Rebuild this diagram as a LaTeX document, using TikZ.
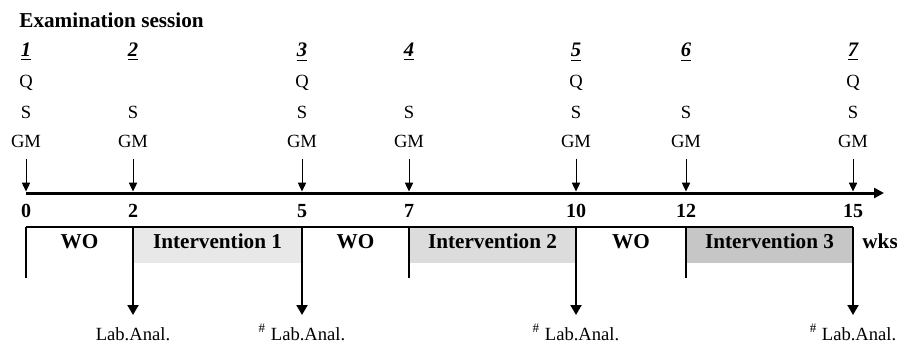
\documentclass[tikz,border=0pt]{standalone}
\usepackage{fontspec}
\setmainfont{Liberation Serif}
\usetikzlibrary{arrows.meta,calc}
\definecolor{graya}{HTML}{E8E8E8}
\definecolor{grayb}{HTML}{DCDCDC}
\definecolor{grayc}{HTML}{C6C6C6}
\begin{document}
\begin{tikzpicture}[x=0.5pt,y=-0.5pt,
  lbl/.style={inner sep=0pt,anchor=base,font=\fontsize{9.3}{11}\selectfont},
  blbl/.style={inner sep=0pt,anchor=base,font=\fontsize{10}{12}\selectfont\bfseries},
  phase/.style={inner sep=0pt,anchor=base,font=\fontsize{10.6}{13}\selectfont\bfseries},
  sesnum/.style={inner sep=0pt,anchor=base,font=\fontsize{10.3}{12}\selectfont\bfseries\itshape},
  axisline/.style={line width=1.5pt,-{Triangle[length=5pt,width=5pt]}},
  probe/.style={line width=0.5pt,-{Triangle[length=4.5pt,width=4.2pt]},shorten >=0.75pt},
  boxline/.style={line width=1pt},
  lab/.style={line width=1pt,-{Triangle[length=5pt,width=5.5pt]}}]
\useasboundingbox (0,0) rectangle (897,342);

% title
\node[inner sep=0pt,anchor=base west,font=\fontsize{10.6}{13}\selectfont\bfseries] (title) at (19,28) {Examination session};

% axis points (weeks)
\foreach \w/\x in {0/26,2/133,5/302,7/409,10/576,12/686,15/853}{
  \coordinate (a\w) at (\x,193);
  \coordinate (b\w) at (\x,227);
  \node[blbl] (n\w) at (\x,217) {\w};
}
\coordinate (aend) at (884,193);

% intervention fills
\fill[graya] (b2) rectangle (302,263);
\fill[grayb] (b7) rectangle (576,263);
\fill[grayc] (b12) rectangle (853,263);

% time axis
\draw[axisline] (a0) -- (aend);

% examination sessions
\foreach \s/\w in {1/0,2/2,3/5,4/7,5/10,6/12,7/15}{
  \path (a\w) ++(0,-136) node[sesnum] (s\s) {\underline{\s}};
  \path (a\w) ++(0,-46) node[lbl] (gm\s) {GM};
  \path (a\w) ++(0,-75) node[lbl] (st\s) {S};
  \draw[probe] ($(gm\s.south)+(0,11)$) -- (a\w);
}
\foreach \s/\w in {1/0,3/5,5/10,7/15}{
  \path (a\w) ++(0,-105) node[lbl] (q\s) {Q};
}

% phase bar
\draw[boxline] (b0) -- (b15);
\foreach \w in {0,7,12}{
  \draw[boxline] (b\w) -- ++(0,51) coordinate (e\w);
}
\foreach \w in {2,5,10,15}{
  \path (b\w) ++(0,113) node[lbl] (lab\w) {\ifnum\w=2 Lab.Anal.\else\textsuperscript{\#} Lab.Anal.\fi};
  \draw[lab] (b\w) -- ++(0,88) coordinate (t\w);
}

% phase labels
\node[phase] (wo1) at (79.5,248) {WO};
\node[phase] (iv1) at (217.5,248) {Intervention 1};
\node[phase] (wo2) at (355.5,248) {WO};
\node[phase] (iv2) at (492.5,248) {Intervention 2};
\node[phase] (wo3) at (631,248) {WO};
\node[phase] (iv3) at (769.5,248) {Intervention 3};
\node[phase,anchor=base west] (wks) at (862,248) {wks};
\end{tikzpicture}
\end{document}
